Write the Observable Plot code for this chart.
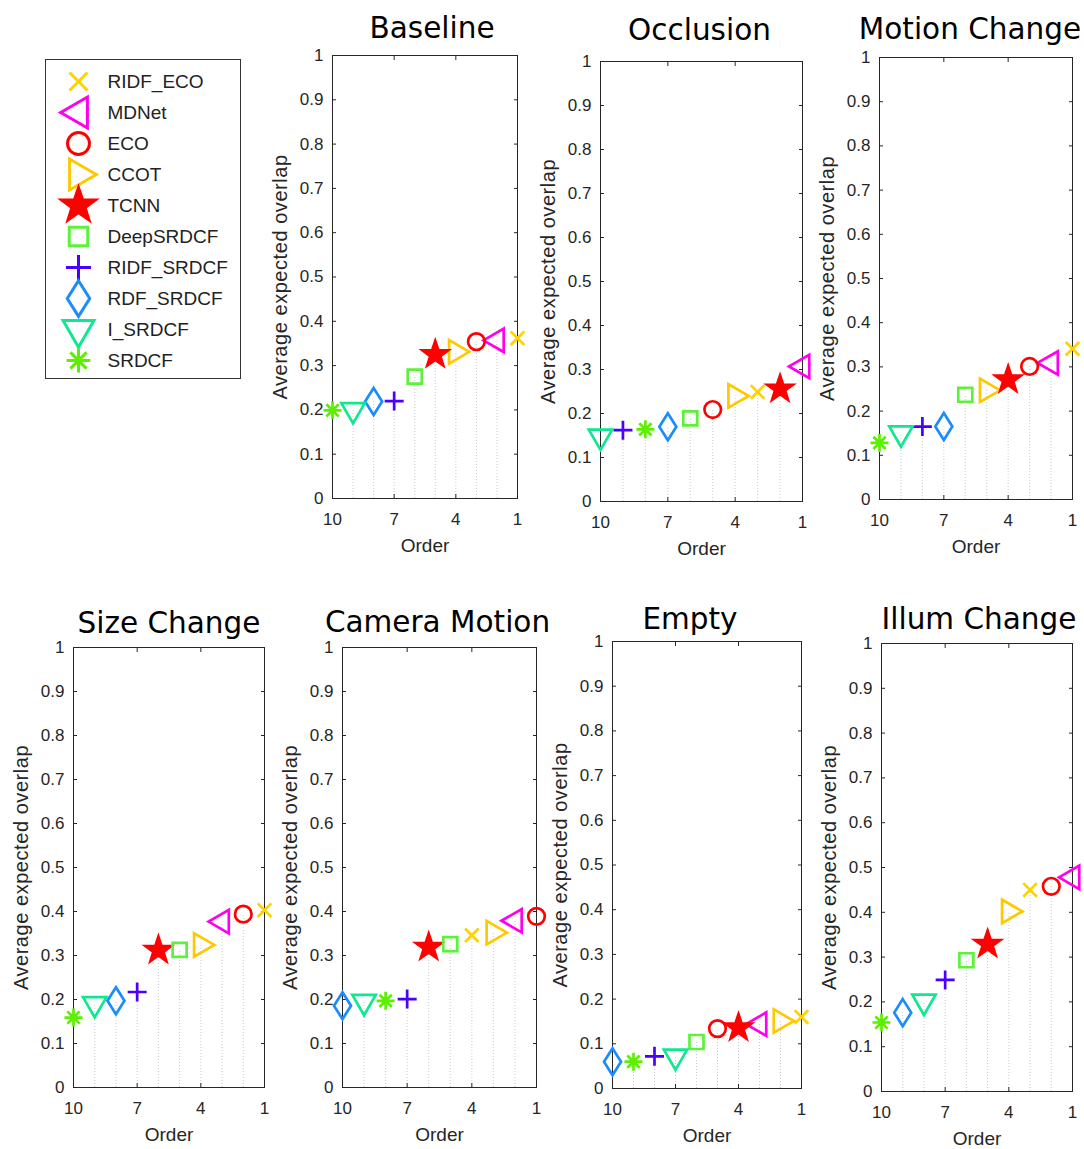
<!DOCTYPE html>
<html><head><meta charset="utf-8">
<script src="https://cdn.jsdelivr.net/npm/d3@7"></script>
<script src="https://cdn.jsdelivr.net/npm/@observablehq/plot@0.6"></script>
<style>
body{margin:0;background:#fff;}
#root{position:relative;width:1084px;height:1149px;overflow:hidden;background:#fff;}
#root svg{position:absolute;overflow:visible;}
</style></head><body><div id="root"></div>
<script>
// ---------- data ----------
const trackers = ["RIDF_ECO","MDNet","ECO","CCOT","TCNN","DeepSRDCF","RIDF_SRDCF","RDF_SRDCF","I_SRDCF","SRDCF"];
const trackerColors = ["#FFD200","#FF00EE","#FF0000","#FFC800","#FF0000","#5CF23A","#4A00FF","#1A8CFF","#10E890","#5CF000"];
const attributes = ["Baseline","Occlusion","Motion Change","Size Change","Camera Motion","Empty","Illum Change"];
// expected average overlap, in tracker order
const baselineEAO     = [0.362,0.357,0.354,0.331,0.325,0.275,0.220,0.219,0.200,0.199];
const occlusionEAO    = [0.249,0.307,0.209,0.240,0.256,0.189,0.162,0.170,0.148,0.164];
const motionEAO       = [0.341,0.309,0.301,0.247,0.271,0.237,0.165,0.165,0.150,0.128];
const sizeEAO         = [0.403,0.377,0.394,0.324,0.312,0.313,0.217,0.197,0.190,0.159];
const cameraEAO       = [0.346,0.379,0.389,0.352,0.319,0.326,0.201,0.186,0.195,0.197];
const emptyEAO        = [0.160,0.144,0.134,0.151,0.136,0.104,0.072,0.060,0.072,0.060];
const illumEAO        = [0.450,0.478,0.458,0.402,0.329,0.293,0.249,0.176,0.201,0.154];
// rank (order) of each tracker, in tracker order
const baselineOrder   = [1,2,3,4,5,6,7,8,9,10];
const occlusionOrder  = [3,1,5,4,2,6,9,7,10,8];
const motionOrder     = [1,2,3,5,4,6,8,7,9,10];
const sizeOrder       = [1,3,2,4,6,5,7,8,9,10];
const cameraOrder     = [4,2,1,3,6,5,7,10,9,8];
const emptyOrder      = [1,3,5,2,4,6,8,10,7,9];
const illumOrder      = [3,1,2,4,5,6,7,9,8,10];
const xTicks = [10,7,4,1];
const yTicks = [0,0.1,0.2,0.3,0.4,0.5,0.6,0.7,0.8,0.9,1];
const yLabel = "Average expected overlap";
const xLabel = "Order";

// ---------- symbols (MATLAB-like markers) ----------
function mk(fn){ return {draw(c,size){ const k=Math.sqrt(size/Math.PI); fn(c,k); }}; }
const symTimes = mk((c,k)=>{const h=6.8*k;c.moveTo(-h,-h);c.lineTo(h,h);c.moveTo(h,-h);c.lineTo(-h,h);});
const symTriLeft = mk((c,k)=>{const R=13.5*k;c.moveTo(-R,0);c.lineTo(R/2,-R*0.866);c.lineTo(R/2,R*0.866);c.closePath();});
const symTriRight = mk((c,k)=>{const R=13.5*k;c.moveTo(R,0);c.lineTo(-R/2,-R*0.866);c.lineTo(-R/2,R*0.866);c.closePath();});
const symTriDown = mk((c,k)=>{const R=13.5*k;c.moveTo(0,R);c.lineTo(-R*0.866,-R/2);c.lineTo(R*0.866,-R/2);c.closePath();});
const symCircle = mk((c,k)=>{const r=8.3*k;c.moveTo(r,0);c.arc(0,0,r,0,2*Math.PI);c.closePath();});
const symStar = mk((c,k)=>{const R=13.5*k,r=5.3*k;for(let i=0;i<10;i++){const a=-Math.PI/2+i*Math.PI/5;const rr=i%2?r:R;const x=rr*Math.cos(a),y=rr*Math.sin(a);if(i===0)c.moveTo(x,y);else c.lineTo(x,y);}c.closePath();});
const symSquare = mk((c,k)=>{const h=7*k;c.moveTo(-h,-h);c.lineTo(h,-h);c.lineTo(h,h);c.lineTo(-h,h);c.closePath();});
const symPlus = mk((c,k)=>{const h=9.5*k;c.moveTo(-h,0);c.lineTo(h,0);c.moveTo(0,-h);c.lineTo(0,h);});
const symDiamond = mk((c,k)=>{c.moveTo(0,-13.5*k);c.lineTo(8.5*k,0);c.lineTo(0,13.5*k);c.lineTo(-8.5*k,0);c.closePath();});
const symAsterisk = mk((c,k)=>{const r=9*k,d=r*0.68;c.moveTo(-r,0);c.lineTo(r,0);c.moveTo(0,-r);c.lineTo(0,r);c.moveTo(-d,-d);c.lineTo(d,d);c.moveTo(d,-d);c.lineTo(-d,d);});
const trackerSymbols = [symTimes,symTriLeft,symCircle,symTriRight,symStar,symSquare,symPlus,symDiamond,symTriDown,symAsterisk];

// ---------- layout ----------
const panelValues = [baselineEAO,occlusionEAO,motionEAO,sizeEAO,cameraEAO,emptyEAO,illumEAO];
const panelOrders = [baselineOrder,occlusionOrder,motionOrder,sizeOrder,cameraOrder,emptyOrder,illumOrder];
const panelLayout = [
  {frame:[332,55,517,498], titleDx:7, titleDy:-27},
  {frame:[600,61,802,501], titleDx:-2, titleDy:-31},
  {frame:[879,57,1072,499], titleDx:-6, titleDy:-28},
  {frame:[73,647,264,1087], titleDx:0, titleDy:-24},
  {frame:[342,647,536,1087], titleDx:-2, titleDy:-25},
  {frame:[612,641,801,1088], titleDx:-17, titleDy:-22},
  {frame:[881,643,1072,1091], titleDx:2, titleDy:-24}
];

const root = document.getElementById("root");
const axisColor = "#262626";
const tickFont = "Liberation Sans, Arial, Helvetica, sans-serif";

attributes.forEach((name, p) => {
  const [L,T,R,B] = panelLayout[p].frame;
  const mL=80, mT=60, mR=30, mB=70;
  const data = trackers.map((t,i)=>({tracker:t,color:trackerColors[i],symbol:trackerSymbols[i],value:panelValues[p][i],order:panelOrders[p][i]}));
  const svg = Plot.plot({
    width: R-L+mL+mR, height: B-T+mT+mB,
    marginLeft:mL, marginRight:mR, marginTop:mT, marginBottom:mB,
    x:{domain:[10,1], label:null},
    y:{domain:[0,1], label:null},
    style:{fontFamily:tickFont, fontSize:"17px", color:axisColor, background:"transparent", overflow:"visible"},
    marks:[
      Plot.ruleX(data,{x:"order", y1:0, y2:"value", stroke:"#cccccc", strokeDasharray:"1,2"}),
      Plot.frame({stroke:axisColor, strokeWidth:1}),
      Plot.axisX(xTicks,{anchor:"bottom", tickSize:-4, tickPadding:18, label:null, tickFormat:d=>String(d)}),
      Plot.axisX(xTicks,{anchor:"top", tickSize:-4, label:null, tickFormat:()=>""}),
      Plot.axisY(yTicks,{anchor:"left", tickSize:-4, tickPadding:13, label:null, tickFormat:d=>String(d)}),
      Plot.axisY(yTicks,{anchor:"right", tickSize:-4, label:null, tickFormat:()=>""}),
      Plot.text([yLabel],{frameAnchor:"left", rotate:-90, dx:-52, textAnchor:"middle", lineAnchor:"middle", fontSize:20, fill:axisColor, style:"letter-spacing:0.55px"}),
      Plot.text([xLabel],{frameAnchor:"bottom", dy:47, textAnchor:"middle", lineAnchor:"middle", fontSize:19, fill:axisColor}),
      Plot.dot(data,{x:"order", y:"value", symbol:"symbol", stroke:"color", fill:d=>d.tracker==="TCNN"?d.color:"none", r:1, strokeWidth:2.7}),
      Plot.text([name],{frameAnchor:"top", dy:panelLayout[p].titleDy, dx:panelLayout[p].titleDx, textAnchor:"middle", lineAnchor:"middle", fontSize:29.5, fontFamily:"DejaVu Sans", fill:"#000"})
    ]
  });
  svg.querySelectorAll("text").forEach(t=>{ if (t.textContent===yLabel) t.style.letterSpacing="0.55px"; });
  svg.style.left = (L-mL)+"px";
  svg.style.top = (T-mT)+"px";
  root.appendChild(svg);
});

// ---------- legend ----------
const legendData = trackers.map((t,i)=>({tracker:t,color:trackerColors[i],symbol:trackerSymbols[i]}));
const legend = Plot.plot({
  width:195, height:319, margin:0,
  x:{domain:[0,195], range:[0,195], axis:null},
  y:{type:"point", domain:trackers, range:[21,302], padding:0, axis:null},
  style:{fontFamily:tickFont, fontSize:"19px", color:"#222", background:"transparent", overflow:"visible"},
  marks:[
    Plot.frame({stroke:"#333", strokeWidth:1}),
    Plot.dot(legendData,{x:()=>33, y:"tracker", symbol:"symbol", stroke:"color", fill:d=>d.tracker==="TCNN"?d.color:"none", r:1.32, strokeWidth:3}),
    Plot.text(legendData,{x:()=>62, y:"tracker", text:"tracker", textAnchor:"start", fill:"#222", fontSize:19})
  ]
});
legend.style.left = "45px";
legend.style.top = "59px";
root.appendChild(legend);
</script>
</body></html>
